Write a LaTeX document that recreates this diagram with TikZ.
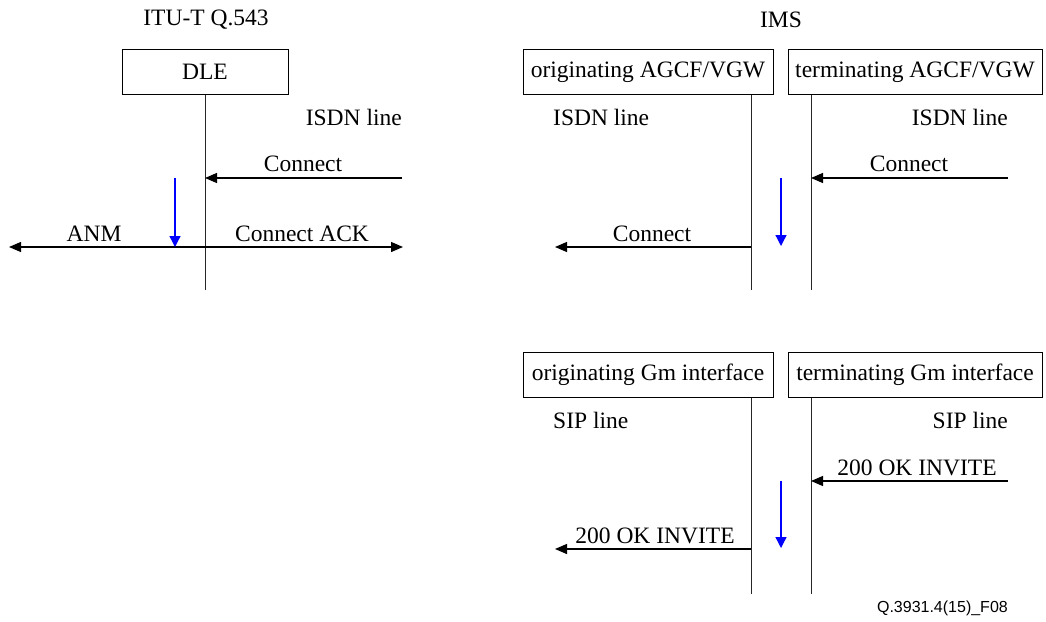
\documentclass[tikz,border=0pt]{standalone}
\usepackage{fontspec}
\setmainfont{Liberation Serif}
\newfontfamily\captfont{Liberation Sans}
\usetikzlibrary{arrows.meta}
\begin{document}
\begin{tikzpicture}[x=1pt,y=-1pt,
  every node/.style={font=\fontsize{23.5}{26}\selectfont, inner sep=0pt},
  entity/.style={draw, line width=1pt, minimum height=45pt, anchor=north},
  life/.style={line width=1pt, draw=black!85},
  msg/.style={line width=1.3pt, -{Triangle[length=12pt,width=10pt]}},
  flow/.style={line width=1.3pt, blue, -{Triangle[length=11pt,width=11pt]}},
  lbl/.style={anchor=base}]
\useasboundingbox (0,0) rectangle (1046,621);

% ---- Left: ITU-T Q.543
\node (t1) at (206,20) {ITU-T Q.543};
\node[entity, minimum width=166pt] (dle) at (205,49) {DLE};
\coordinate (dleb) at (205,290);
\draw[life] (dle.south) -- (dleb);
\node[anchor=east] (isdn1) at (402,117) {ISDN line};
\coordinate (c1s) at (402,178);
\coordinate (c1e) at (205,178);
\draw[msg] (c1s) -- (c1e);
\node[lbl] (c1l) at (303,171) {Connect};
\coordinate (ackm) at (205,247);
\coordinate (anme) at (9,247);
\coordinate (acke) at (403,247);
\draw[msg] (ackm) -- (anme);
\draw[msg] (ackm) -- (acke);
\node[lbl] (anml) at (94,241) {ANM};
\node[lbl] (ackl) at (302,241) {Connect ACK};
\coordinate (b1s) at (175,178);
\coordinate (b1e) at (175,247);
\draw[flow] (b1s) -- (b1e);

% ---- Right top: IMS
\node (t2) at (781,20) {IMS};
\node[entity, minimum width=250pt] (oa) at (648,49) {originating AGCF/VGW};
\node[entity, minimum width=254pt] (ta) at (915,49) {terminating AGCF/VGW};
\coordinate (oab) at (751,290);
\coordinate (tab) at (811,290);
\draw[life] (oab |- oa.south) -- (oab);
\draw[life] (tab |- ta.south) -- (tab);
\node[anchor=west] (isdn2) at (553,117) {ISDN line};
\node[anchor=east] (isdn3) at (1008,117) {ISDN line};
\coordinate (c2s) at (1008,178);
\coordinate (c2e) at (811,178);
\draw[msg] (c2s) -- (c2e);
\node[lbl] (c2l) at (909,171) {Connect};
\coordinate (c3s) at (751,247);
\coordinate (c3e) at (555,247);
\draw[msg] (c3s) -- (c3e);
\node[lbl] (c3l) at (652,241) {Connect};
\coordinate (b2s) at (781,178);
\coordinate (b2e) at (781,246);
\draw[flow] (b2s) -- (b2e);

% ---- Right bottom: Gm
\node[entity, minimum width=250pt, minimum height=45pt] (og) at (648,352) {originating Gm interface};
\node[entity, minimum width=254pt, minimum height=45pt] (tg) at (915,352) {terminating Gm interface};
\coordinate (ogb) at (751,594);
\coordinate (tgb) at (811,594);
\draw[life] (ogb |- og.south) -- (ogb);
\draw[life] (tgb |- tg.south) -- (tgb);
\node[anchor=west] (sip1) at (553,420) {SIP line};
\node[anchor=east] (sip2) at (1008,420) {SIP line};
\coordinate (o1s) at (1008,481);
\coordinate (o1e) at (811,481);
\draw[msg] (o1s) -- (o1e);
\node[lbl] (o1l) at (917,475) {200 OK INVITE};
\coordinate (o2s) at (751,549);
\coordinate (o2e) at (555,549);
\draw[msg] (o2s) -- (o2e);
\node[lbl] (o2l) at (655,543) {200 OK INVITE};
\coordinate (b3s) at (781,481);
\coordinate (b3e) at (781,548);
\draw[flow] (b3s) -- (b3e);

\node[anchor=east, font=\captfont\fontsize{16}{18}\selectfont] (cap) at (1008,608) {Q.3931.4(15)\_F08};
\end{tikzpicture}
\end{document}
